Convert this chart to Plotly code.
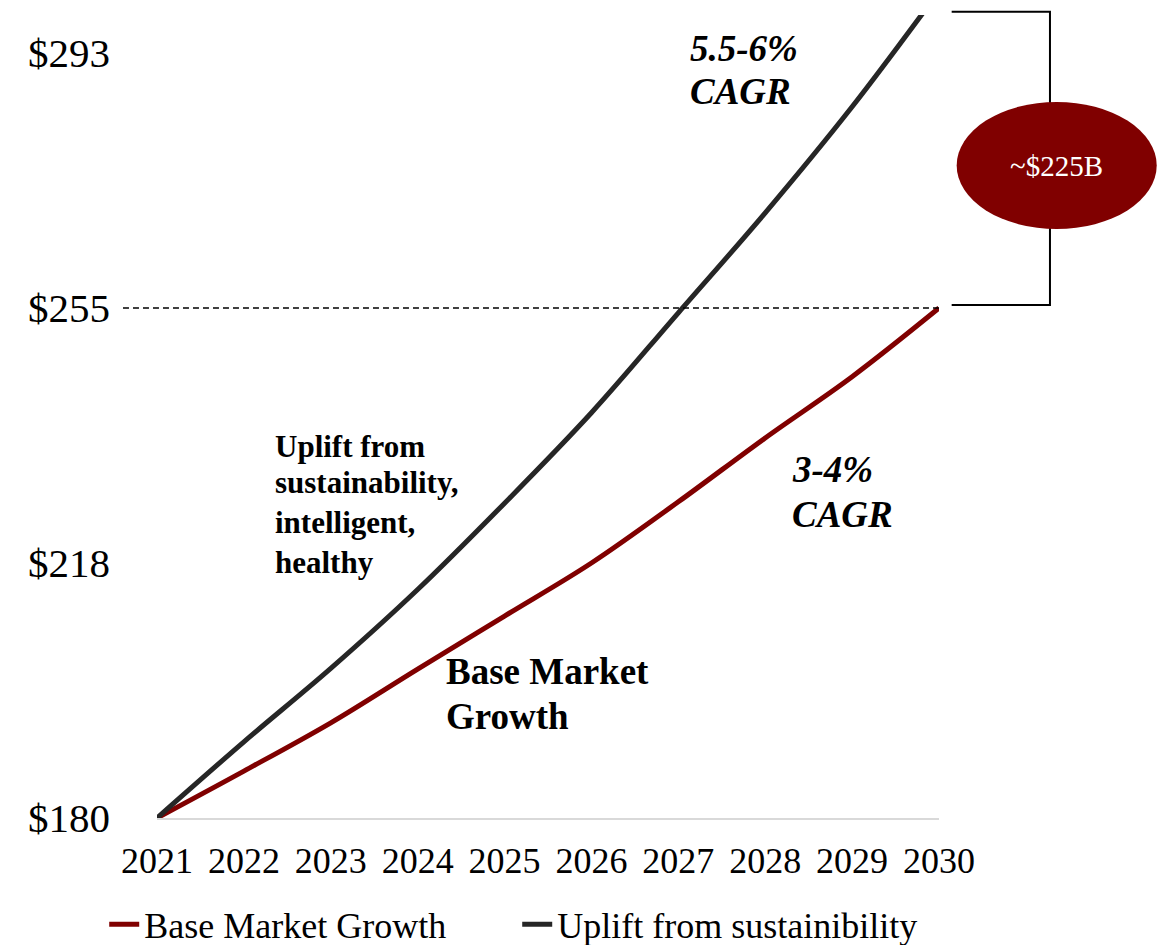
import plotly.graph_objects as go

# Market size projections ($B)
years = [2021, 2022, 2023, 2024, 2025, 2026, 2027, 2028, 2029, 2030]
base_growth = [180, 186.9, 194.0, 201.9, 209.7, 217.5, 226.5, 235.9, 244.9, 255.0]
uplift = [180, 191.2, 202.0, 213.6, 226.3, 239.6, 254.3, 269.0, 284.6, 301.6]

y_tickvals = [180, 217.5, 255, 292.5]
y_ticktext = ["$180", "$218", "$255", "$293"]
x_ticktext = [str(y) for y in years]

series_names = ["Base Market Growth", "Uplift from sustainibility"]
gap_label = "~$225B"

FONT = "Liberation Serif"
RED = "#800000"
DARK = "#262626"
Y_MIN, Y_MAX = 180, 298.1

fig = go.Figure()
fig.add_trace(go.Scatter(
    x=years, y=base_growth, mode="lines", name=series_names[0],
    line=dict(color=RED, width=5, shape="spline", smoothing=1.0),
))
fig.add_trace(go.Scatter(
    x=years, y=uplift, mode="lines", name=series_names[1],
    line=dict(color=DARK, width=5, shape="spline", smoothing=1.0),
))

# dashed reference line at the base-case 2030 value
fig.add_shape(type="line", xref="paper", yref="y",
              x0=-0.0435, x1=1.0, y0=base_growth[-1], y1=base_growth[-1],
              line=dict(color="black", width=1.5, dash="6px,4px"))

# bracket marking the gap between the two 2030 outcomes
fig.add_shape(type="path", xref="paper", yref="paper",
              path="M 1.0162,1.0041 L 1.1419,1.0041 L 1.1419,0.6389 L 1.0162,0.6389",
              line=dict(color="black", width=2))
fig.add_shape(type="circle", xref="paper", yref="paper",
              x0=1.0226, x1=1.2784, y0=0.7335, y1=0.8917,
              fillcolor=RED, line=dict(width=0))

annotations = [
    dict(text=gap_label, xref="paper", yref="paper", x=1.1505, y=0.812,
         xanchor="center", yanchor="middle", showarrow=False,
         font=dict(family=FONT, size=29, color="white")),
]

def label(text, x, y, size, italic=False):
    t = "<b><i>%s</i></b>" % text if italic else "<b>%s</b>" % text
    annotations.append(dict(text=t, x=x, y=y, xref="x", yref="y",
                            xanchor="left", yanchor="middle", showarrow=False,
                            font=dict(family=FONT, size=size, color="black")))

label("5.5-6%", 2027.11, 293.2, 37, italic=True)
label("CAGR", 2027.11, 286.8, 37, italic=True)
label("3-4%", 2028.285, 231.3, 37, italic=True)
label("CAGR", 2028.285, 224.7, 37, italic=True)
label("Uplift from", 2022.335, 234.7, 31)
label("sustainability,", 2022.335, 229.3, 31)
label("intelligent,", 2022.335, 223.5, 31)
label("healthy", 2022.335, 217.6, 31)
label("Base Market", 2024.303, 201.6, 37)
label("Growth", 2024.303, 195.0, 37)

fig.update_layout(
    width=1163, height=945,
    margin=dict(l=157, r=224, t=15, b=127, autoexpand=False),
    paper_bgcolor="white", plot_bgcolor="white",
    font=dict(family=FONT, color="black"),
    annotations=annotations,
    showlegend=True,
    legend=dict(orientation="h", x=-0.0675, y=-0.1325, xanchor="left", yanchor="middle",
                font=dict(family=FONT, size=36, color="black"),
                entrywidth=368, bgcolor="rgba(0,0,0,0)"),
    xaxis=dict(range=[2021, 2030], tickvals=years, ticktext=x_ticktext,
               showgrid=False, zeroline=False, showline=True, automargin=False,
               linecolor="#d9d9d9", linewidth=1.5, ticks="",
               tickfont=dict(family=FONT, size=36, color="black"),
               ticklabelstandoff=10),
    yaxis=dict(range=[Y_MIN, Y_MAX], tickvals=y_tickvals, ticktext=y_ticktext,
               showgrid=False, zeroline=False, showline=False, ticks="", automargin=False,
               tickfont=dict(family=FONT, size=41, color="black"),
               ticklabelstandoff=46),
)

fig.write_html("out.html")
